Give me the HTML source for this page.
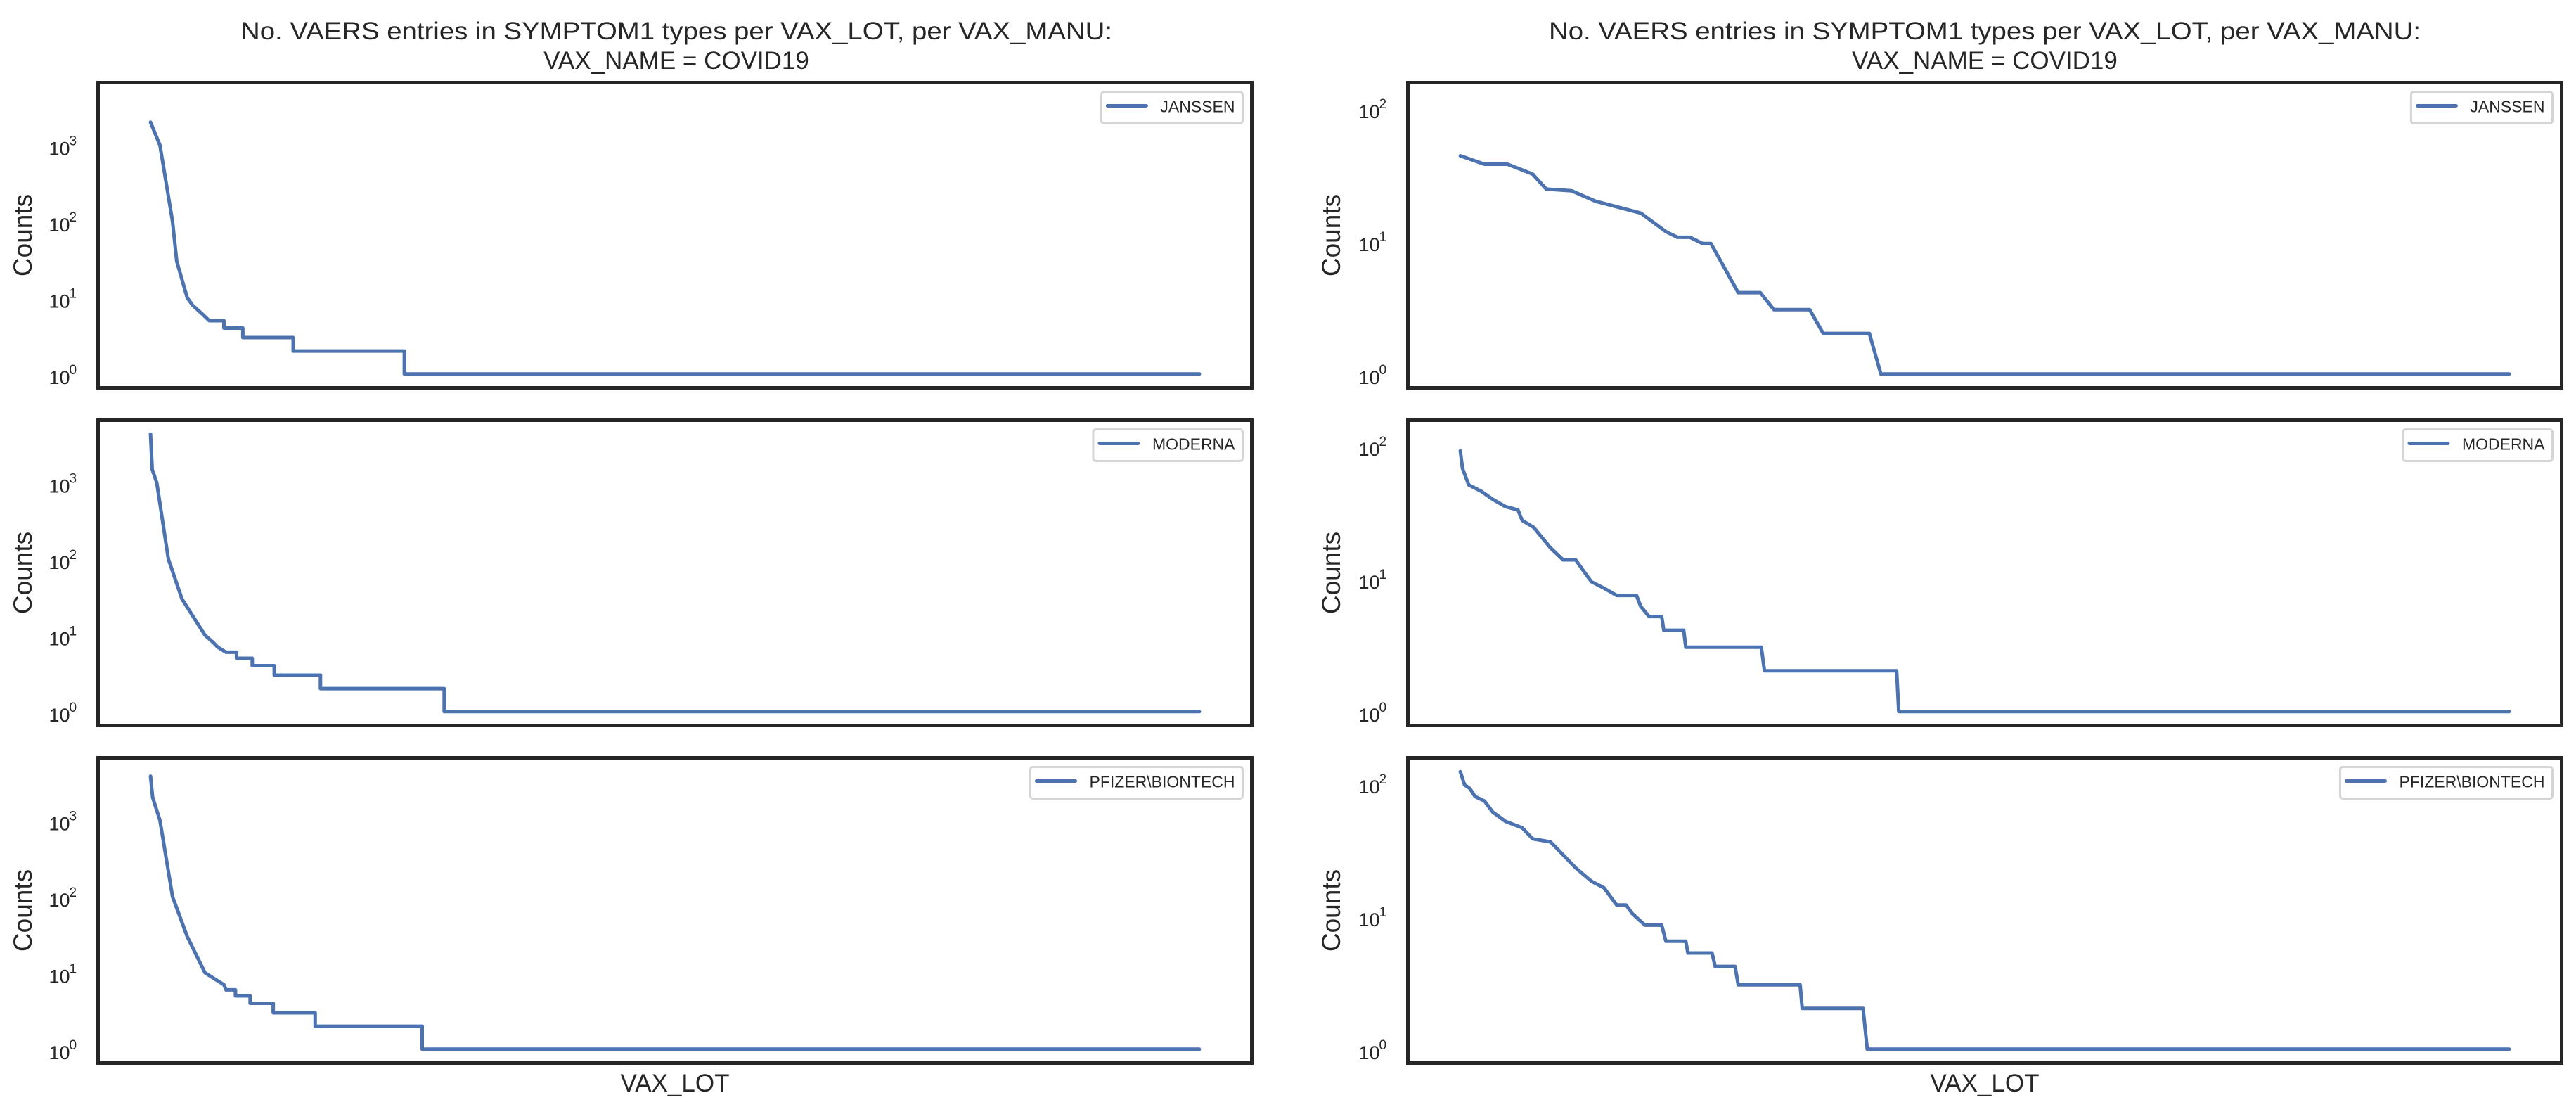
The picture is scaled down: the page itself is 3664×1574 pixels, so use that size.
<!DOCTYPE html>
<html><head><meta charset="utf-8">
<style>
html,body{margin:0;padding:0;background:#fff;}
svg{display:block;font-family:"Liberation Sans",Arial,sans-serif;}
</style></head>
<body>
<svg id="chart" width="3664" height="1574" viewBox="0 0 3664 1574" xmlns="http://www.w3.org/2000/svg">
<rect width="3664" height="1574" fill="#fff"/>
<text x="962" y="56" font-size="35" fill="#262626" text-anchor="middle" textLength="1240" lengthAdjust="spacingAndGlyphs">No. VAERS entries in SYMPTOM1 types per VAX_LOT, per VAX_MANU:</text>
<text x="962" y="98" font-size="35" fill="#262626" text-anchor="middle">VAX_NAME = COVID19</text>
<text x="2823" y="56" font-size="35" fill="#262626" text-anchor="middle" textLength="1240" lengthAdjust="spacingAndGlyphs">No. VAERS entries in SYMPTOM1 types per VAX_LOT, per VAX_MANU:</text>
<text x="2823" y="98" font-size="35" fill="#262626" text-anchor="middle">VAX_NAME = COVID19</text>
<text x="960" y="1552" font-size="35" fill="#262626" text-anchor="middle">VAX_LOT</text>
<text x="2823" y="1552" font-size="35" fill="#262626" text-anchor="middle">VAX_LOT</text>
<g id="plots"></g>
</svg>
<script>
// Series data: x = rank position (fraction of lots), y = counts
const labels = ["JANSSEN", "MODERNA", "PFIZER\\BIONTECH"];
const leftJanssenX = [0, 0.009, 0.021, 0.025, 0.035, 0.04, 0.05, 0.056, 0.07, 0.07, 0.088, 0.088, 0.136, 0.136, 0.242, 0.242, 1];
const leftJanssenY = [2000, 1000, 100, 30, 10, 8, 6, 5, 5, 4, 4, 3, 3, 2, 2, 1, 1];
const leftModernaX = [0, 0.0016, 0.006, 0.017, 0.03, 0.052, 0.06, 0.064, 0.072, 0.082, 0.082, 0.097, 0.097, 0.118, 0.118, 0.162, 0.162, 0.28, 0.28, 1];
const leftModernaY = [4350, 1500, 1000, 100, 30, 10, 8, 7, 6, 6, 5, 5, 4, 4, 3, 3, 2, 2, 1, 1];
const leftPfizerX = [0, 0.002, 0.009, 0.021, 0.035, 0.052, 0.07, 0.072, 0.081, 0.081, 0.095, 0.095, 0.117, 0.117, 0.157, 0.157, 0.259, 0.259, 1];
const leftPfizerY = [3800, 2000, 1000, 100, 30, 10, 7, 6, 6, 5, 5, 4, 4, 3, 3, 2, 2, 1, 1];
const rightJanssenX = [0, 0.023, 0.045, 0.069, 0.082, 0.106, 0.129, 0.172, 0.196, 0.207, 0.219, 0.231, 0.239, 0.265, 0.286, 0.299, 0.333, 0.346, 0.39, 0.401, 1];
const rightJanssenY = [44, 38, 38, 32, 24.7, 24, 20, 16.3, 11.8, 10.7, 10.7, 9.6, 9.6, 4.1, 4.1, 3.05, 3.05, 2.02, 2.02, 1, 1];
const rightModernaX = [0, 0.002, 0.008, 0.02, 0.031, 0.043, 0.055, 0.059, 0.07, 0.086, 0.098, 0.11, 0.117, 0.125, 0.137, 0.149, 0.168, 0.172, 0.18, 0.192, 0.194, 0.213, 0.215, 0.287, 0.29, 0.416, 0.418, 1];
const rightModernaY = [92, 68, 51, 45.6, 39.6, 35, 33, 27.5, 24.4, 17.1, 13.9, 13.9, 11.6, 9.5, 8.5, 7.5, 7.5, 6.2, 5.2, 5.2, 4.1, 4.1, 3.05, 3.05, 2.03, 2.03, 1, 1];
const rightPfizerX = [0, 0.004, 0.009, 0.014, 0.023, 0.031, 0.043, 0.059, 0.069, 0.086, 0.094, 0.11, 0.125, 0.137, 0.149, 0.158, 0.164, 0.176, 0.192, 0.196, 0.215, 0.217, 0.24, 0.243, 0.262, 0.265, 0.324, 0.326, 0.384, 0.388, 1];
const rightPfizerY = [123, 98, 92, 80, 74, 61, 52, 46.5, 38.4, 36.4, 31.4, 23.2, 18.4, 16.4, 12.2, 12.2, 10.5, 8.6, 8.6, 6.5, 6.5, 5.3, 5.3, 4.2, 4.2, 3.05, 3.05, 2.03, 2.03, 1, 1];

const NS = "http://www.w3.org/2000/svg";
const root = document.getElementById("plots");
function mk(tag, attrs, parent) {
  const e = document.createElementNS(NS, tag);
  for (const k in attrs) e.setAttribute(k, attrs[k]);
  (parent || root).appendChild(e);
  return e;
}
const columns = [
  { left: 139.5, width: 1641, series: [[leftJanssenX, leftJanssenY], [leftModernaX, leftModernaY], [leftPfizerX, leftPfizerY]], side: "left" },
  { left: 2002.5, width: 1641, series: [[rightJanssenX, rightJanssenY], [rightModernaX, rightModernaY], [rightPfizerX, rightPfizerY]], side: "right" }
];
const tops = [117.5, 597.5, 1077.5];
const H = 434;

columns.forEach(col => {
  let maxV = 1;
  col.series.forEach(s => s[1].forEach(v => { if (v > maxV) maxV = v; }));
  const L = Math.log10(maxV);
  col.series.forEach((s, r) => {
    const top = tops[r], bottom = top + H, left = col.left, right = left + col.width;
    const g = mk("g", {});
    
    
    const xs = f => left + col.width * (0.05 + f) / 1.1;
    const ys = v => bottom - H * (Math.log10(v) + 0.05 * L) / (1.1 * L);
    for (let d = 0; d <= Math.floor(L + 1e-9); d++) {
      const ty = ys(Math.pow(10, d));
      const t = mk("text", { x: left - 40, y: ty + 14, "font-size": 27, fill: "#262626", "text-anchor": "end" }, g);
      t.textContent = "10";
      
      
      const sp = mk("text", { x: left - 41, y: ty, "font-size": 19, fill: "#262626" }, g);
      sp.textContent = String(d);
      
      
    }
    const cx = col.side === "left" ? 45 : 1906;
    const yt = mk("text", { x: cx, y: top + H / 2, "font-size": 37, fill: "#262626", "text-anchor": "middle", transform: "rotate(-90 " + cx + " " + (top + H / 2) + ")" }, g);
    yt.textContent = "Counts";
    
    
    const pts = s[0].map((x, i) => xs(x).toFixed(1) + "," + ys(s[1][i]).toFixed(1)).join(" ");
    const pl = mk("polyline", { points: pts, fill: "none", stroke: "#4c72b0", "stroke-width": 5, "stroke-linejoin": "round", "stroke-linecap": "round" }, g);
    
    
    const fr = mk("rect", { x: left, y: top, width: col.width, height: H, fill: "none", stroke: "#262626", "stroke-width": 5 }, g);
    
    
    // legend
    const boxR = right - 13, boxT = top + 13, boxH = 45;
    const lb = mk("rect", { x: 0, y: boxT, width: 10, height: boxH, rx: 4, fill: "#fff", stroke: "#d5d5d5", "stroke-width": 3 }, g);
    
    
    const ll = mk("line", { x1: 0, x2: 0, y1: boxT + 20, y2: boxT + 20, stroke: "#4c72b0", "stroke-width": 5, "stroke-linecap": "round" }, g);
    
    
    const lt = mk("text", { x: boxR - 11, y: boxT + 29, "font-size": 23, fill: "#262626", "text-anchor": "end" }, g);
    lt.textContent = labels[r];
    
    
    let tw = labels[r].length * 14.5;
    try { tw = lt.getComputedTextLength() || tw; } catch (e) {}
    const textStart = boxR - 11 - tw;
    const boxL = textStart - 84;
    lb.setAttribute("x", boxL);
    lb.setAttribute("width", boxR - boxL);
    ll.setAttribute("x1", boxL + 9);
    ll.setAttribute("x2", boxL + 64);
  });
});
</script>
</body></html>
